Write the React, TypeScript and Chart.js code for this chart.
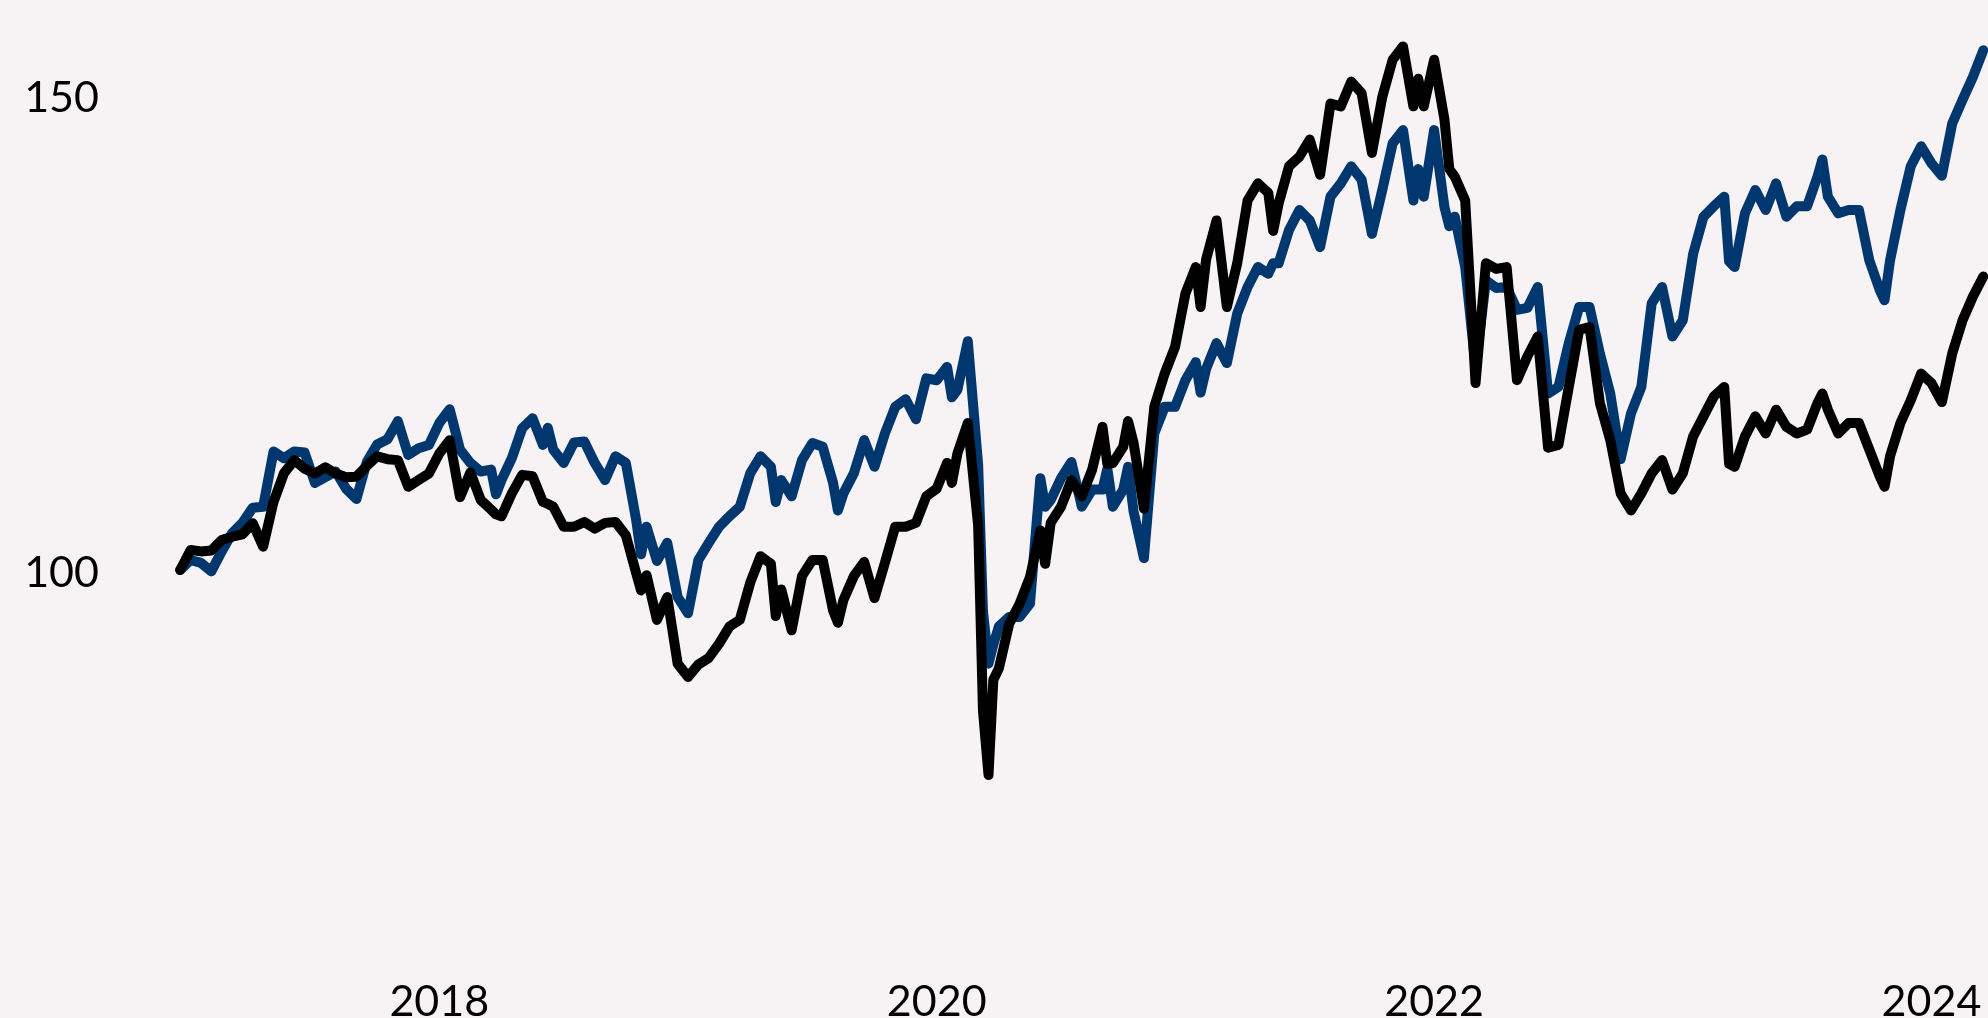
import React, { useEffect, useRef } from "react";
import { Chart, registerables } from "chart.js";

Chart.register(...registerables);

// Observation dates (mostly semi-monthly, with a few extra points around sharp moves)
const dates: string[] = [
  "2016-12-16",
  "2017-01-01","2017-01-16","2017-02-01","2017-02-16","2017-03-01","2017-03-16","2017-04-01","2017-04-16","2017-05-01","2017-05-16","2017-06-01","2017-06-16","2017-07-01","2017-07-16","2017-08-01","2017-08-16","2017-09-01","2017-09-16","2017-10-01","2017-10-16","2017-11-01","2017-11-16","2017-12-01","2017-12-16",
  "2018-01-01","2018-01-16","2018-02-01","2018-02-16","2018-03-01","2018-03-16","2018-03-23","2018-04-01","2018-04-16","2018-05-01","2018-05-16","2018-06-01","2018-06-08","2018-06-16","2018-07-01","2018-07-16","2018-08-01","2018-08-16","2018-09-01","2018-09-16","2018-10-01","2018-10-16","2018-10-23","2018-11-01","2018-11-16","2018-12-01","2018-12-16",
  "2019-01-01","2019-01-16","2019-02-01","2019-02-16","2019-03-01","2019-03-16","2019-04-01","2019-04-16","2019-05-01","2019-05-08","2019-05-16","2019-06-01","2019-06-16","2019-07-01","2019-07-16","2019-08-01","2019-08-08","2019-08-16","2019-09-01","2019-09-16","2019-10-01","2019-10-16","2019-11-01","2019-11-16","2019-12-01","2019-12-16",
  "2020-01-01","2020-01-16","2020-01-23","2020-02-01","2020-02-16","2020-03-01","2020-03-08","2020-03-16","2020-03-23","2020-04-01","2020-04-16","2020-05-01","2020-05-16","2020-06-01","2020-06-08","2020-06-16","2020-07-01","2020-07-16","2020-08-01","2020-08-16","2020-09-01","2020-09-08","2020-09-16","2020-10-01","2020-10-08","2020-10-16","2020-11-01","2020-11-16","2020-12-01","2020-12-16",
  "2021-01-01","2021-01-16","2021-01-23","2021-02-01","2021-02-16","2021-03-01","2021-03-16","2021-04-01","2021-04-16","2021-05-01","2021-05-08","2021-05-16","2021-06-01","2021-06-16","2021-07-01","2021-07-16","2021-08-01","2021-08-16","2021-09-01","2021-09-16","2021-10-01","2021-10-16","2021-11-01","2021-11-16","2021-12-01","2021-12-08","2021-12-16",
  "2022-01-01","2022-01-16","2022-01-23","2022-02-01","2022-02-16","2022-03-01","2022-03-16","2022-04-01","2022-04-16","2022-05-01","2022-05-16","2022-06-01","2022-06-16","2022-07-01","2022-07-16","2022-08-01","2022-08-16","2022-09-01","2022-09-16","2022-10-01","2022-10-16","2022-11-01","2022-11-16","2022-12-01","2022-12-16",
  "2023-01-01","2023-01-16","2023-02-01","2023-02-16","2023-03-01","2023-03-08","2023-03-16","2023-04-01","2023-04-16","2023-05-01","2023-05-16","2023-06-01","2023-06-16","2023-07-01","2023-07-16","2023-07-23","2023-08-01","2023-08-16","2023-09-01","2023-09-16","2023-10-01","2023-10-16","2023-10-23","2023-11-01","2023-11-16","2023-12-01","2023-12-16",
  "2024-01-01","2024-01-16","2024-02-01","2024-02-16","2024-03-01","2024-03-16",
];

// Black series (indexed, start = 100)
const blackSeries: number[] = [
  100.35,
  102.45, 102.3, 102.4, 103.5, 103.85, 104.1, 105.25, 102.8, 107.5, 110.5, 111.9, 111.0, 110.5, 111.15, 110.5, 110.1, 110.15, 111.3, 112.3, 112.0, 111.9, 109.1, 109.8, 110.5,
  112.6, 114.0, 108.0, 110.6, 107.7, 106.7, 106.2, 106.0, 108.4, 110.35, 110.2, 107.5, 107.3, 107.0, 104.9, 104.9, 105.4, 104.7, 105.3, 105.4, 104.0, 100.0, 98.2, 99.8, 95.1, 97.5, 90.5,
  89.1, 90.4, 91.1, 92.6, 94.4, 95.1, 99.0, 101.8, 101.0, 95.5, 98.3, 94.0, 99.7, 101.4, 101.4, 96.1, 94.8, 97.2, 99.7, 101.2, 97.4, 101.1, 104.9, 104.9, 105.3, 108.1,
  108.9, 111.6, 109.5, 112.6, 115.8, 105.0, 85.5, 78.8, 88.8, 90.0, 94.7, 96.8, 99.6, 104.5, 101.0, 105.3, 107.0, 109.8, 108.1, 110.9, 115.4, 111.5, 111.6, 113.3, 116.0, 113.7, 106.8, 117.5, 121.0, 123.8,
  129.4, 132.2, 128.0, 133.0, 137.1, 128.0, 132.6, 139.2, 141.0, 140.0, 136.0, 138.9, 142.8, 143.8, 145.6, 141.9, 149.4, 149.1, 151.7, 150.5, 144.2, 150.1, 154.0, 155.4, 149.1, 152.0, 149.1,
  154.0, 147.7, 142.5, 141.7, 139.2, 120.0, 132.6, 132.0, 132.2, 120.3, 122.8, 124.9, 113.2, 113.5, 119.6, 125.6, 125.9, 117.9, 114.0, 108.4, 106.6, 108.4, 110.5, 111.9, 108.8,
  110.5, 114.4, 116.5, 118.6, 119.6, 111.5, 111.2, 114.4, 116.5, 114.7, 117.2, 115.4, 114.7, 115.1, 117.9, 118.9, 117.2, 114.7, 115.8, 115.8, 113.0, 110.2, 109.1, 112.3, 115.8, 118.2, 121.0,
  120.0, 118.0, 123.1, 126.6, 129.1, 131.2,
];

// Blue series (indexed, start = 100)
const blueSeries: number[] = [
  100.35,
  101.4, 101.1, 100.2, 102.3, 104.2, 105.3, 106.9, 107.0, 112.8, 112.1, 112.8, 112.7, 109.5, 110.1, 110.7, 108.9, 107.8, 111.7, 113.55, 114.1, 116.0, 112.45, 113.15, 113.5,
  115.8, 117.25, 113.0, 111.6, 110.7, 110.9, 108.3, 109.8, 112.1, 115.25, 116.3, 113.5, 115.3, 113.0, 111.6, 113.75, 113.85, 111.6, 109.8, 112.3, 111.6, 105.6, 102.0, 104.9, 101.3, 103.2, 97.5,
  95.8, 101.4, 103.2, 104.9, 106.0, 107.0, 110.5, 112.3, 111.2, 107.5, 109.8, 108.1, 111.9, 113.7, 113.3, 109.5, 106.6, 108.4, 110.5, 114.0, 111.2, 114.7, 117.5, 118.3, 116.2, 120.5,
  120.3, 121.7, 118.5, 119.3, 124.4, 111.4, 96.0, 90.5, 92.5, 94.4, 95.4, 95.4, 96.8, 110.0, 107.0, 107.7, 110.0, 111.7, 107.0, 108.8, 108.8, 111.0, 107.0, 108.8, 111.2, 106.5, 101.6, 114.7, 117.5, 117.5,
  120.3, 122.2, 119.0, 121.5, 124.2, 122.1, 127.3, 130.1, 132.2, 131.5, 132.6, 132.6, 136.1, 138.2, 137.1, 134.3, 139.6, 141.0, 142.8, 141.4, 135.7, 140.3, 145.2, 146.6, 139.2, 142.5, 139.6,
  146.6, 138.5, 136.5, 137.5, 132.2, 121.7, 130.8, 130.0, 130.1, 127.7, 127.9, 130.1, 118.9, 119.6, 124.2, 128.0, 128.0, 123.1, 118.9, 112.0, 116.8, 119.6, 128.4, 130.1, 124.9,
  126.6, 133.6, 137.5, 138.6, 139.6, 132.8, 132.2, 137.85, 140.3, 138.2, 141.0, 137.5, 138.6, 138.6, 141.7, 143.5, 139.6, 137.85, 138.2, 138.2, 132.9, 129.8, 128.7, 132.9, 138.2, 142.8, 144.9,
  143.1, 141.8, 147.3, 149.8, 152.2, 155.0,
];

const yTickValues = [100, 150];
const xTickYears = [2018, 2020, 2022, 2024];

const toYear = (d: string) => {
  const [y, m, day] = d.split("-").map(Number);
  return y + (m - 1) / 12 + (day - 1) / 360;
};

export default function App() {
  const canvasRef = useRef<HTMLCanvasElement>(null);

  useEffect(() => {
    document.body.style.margin = "0";
    const xs = dates.map(toYear);
    const tickFont = { family: "Lato", size: 43 };
    const chart = new Chart(canvasRef.current as HTMLCanvasElement, {
      type: "line",
      data: {
        datasets: [
          {
            label: "Black",
            data: xs.map((x, i) => ({ x, y: blackSeries[i] })),
            borderColor: "#000000",
            backgroundColor: "#000000",
            borderWidth: 10,
            pointRadius: 0,
            tension: 0,
            borderJoinStyle: "round",
            borderCapStyle: "round",
            fill: false,
          },
          {
            label: "Blue",
            data: xs.map((x, i) => ({ x, y: blueSeries[i] })),
            borderColor: "#00376e",
            backgroundColor: "#00376e",
            borderWidth: 10,
            pointRadius: 0,
            tension: 0,
            borderJoinStyle: "round",
            borderCapStyle: "round",
            fill: false,
          },
        ],
      },
      options: {
        animation: false,
        responsive: true,
        maintainAspectRatio: false,
        layout: { padding: 0, autoPadding: false },
        plugins: {
          legend: { display: false },
          tooltip: { enabled: false },
        },
        scales: {
          x: {
            type: "linear",
            bounds: "data",
            min: 2016.7161,
            max: 2024.2272,
            grid: { display: false, drawTicks: false },
            border: { display: false },
            ticks: {
              font: tickFont,
              color: "#000000",
              padding: 36,
              maxRotation: 0,
              autoSkip: false,
              callback: (v: any) => String(v),
            },
            afterBuildTicks: (scale: any) => {
              scale.ticks = xTickYears.map((v) => ({ value: v }));
            },
            afterFit: (scale: any) => {
              scale.height = 78;
              scale.paddingLeft = 0;
              scale.paddingRight = 0;
              scale.paddingTop = 0;
              scale.paddingBottom = 0;
            },
          },
          y: {
            type: "linear",
            bounds: "data",
            min: 61.44,
            max: 160.28,
            grid: { display: false, drawTicks: false },
            border: { display: false },
            ticks: {
              font: tickFont,
              color: "#000000",
              padding: 21,
              autoSkip: false,
              callback: (v: any) => String(v),
            },
            afterBuildTicks: (scale: any) => {
              scale.ticks = yTickValues.map((v) => ({ value: v }));
            },
            afterFit: (scale: any) => {
              scale.width = 120;
              scale.paddingLeft = 0;
              scale.paddingRight = 0;
              scale.paddingTop = 0;
              scale.paddingBottom = 0;
            },
          },
        },
      },
    });
    return () => chart.destroy();
  }, []);

  return (
    <div
      style={{
        position: "fixed",
        left: 0,
        top: 0,
        width: 1988,
        height: 1018,
        background: "#f7f3f4",
      }}
    >
      <canvas ref={canvasRef} />
    </div>
  );
}
